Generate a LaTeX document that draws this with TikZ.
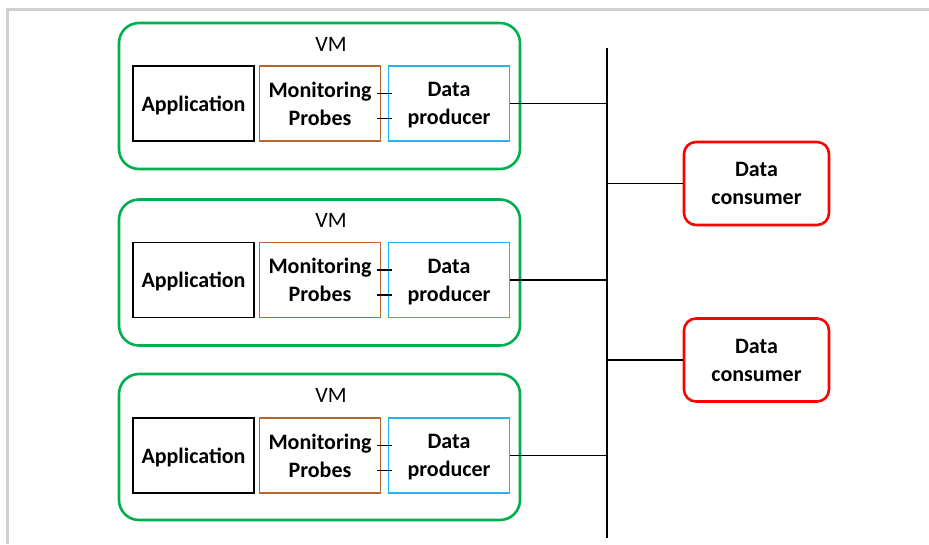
\documentclass[tikz,border=0pt]{standalone}
\usepackage{fontspec}
\setmainfont{Carlito}
\definecolor{vmgreen}{HTML}{00B050}
\definecolor{probebrown}{HTML}{B8662B}
\definecolor{prodblue}{HTML}{1FB4F0}
\definecolor{consred}{HTML}{FF0000}
\definecolor{framegray}{HTML}{D0D0D0}

\begin{document}
\begin{tikzpicture}[x=1pt,y=-1pt,
    every node/.style={font=\fontsize{22}{28}\selectfont},
    vm/.style={draw=vmgreen, line width=2.6pt, rounded corners=20pt,
      minimum width=401pt, minimum height=146pt},
    part/.style={draw, line width=1.4pt, inner sep=0pt, align=center, text depth=-1.5pt,
      minimum width=121pt, minimum height=75pt, font=\fontsize{22}{28}\selectfont\bfseries},
    consumer/.style={draw=consred, line width=2.6pt, rounded corners=12pt,
      inner sep=0pt, align=center, minimum width=145pt, minimum height=83pt,
      font=\fontsize{22}{28}\selectfont\bfseries},
    wire/.style={line width=1.4pt}]
    \useasboundingbox (0,0) rectangle (929,544);
    \draw[framegray, line width=3pt] (929,9) -- (7.5,9) -- (7.5,544);
    %% Draw the VMs
    \node[vm] (vm1) at (319.5,96) {};
    \node[vm] (vm2) at (319.5,272.5) {};
    \node[vm] (vm3) at (319.5,447) {};
    \node (vmlabel1) at (331,44) {VM};
    \node (vmlabel2) at (331,220) {VM};
    \node (vmlabel3) at (331,395) {VM};
    %% Draw the boxes inside
    \node[part] (app1) at (193.5,103.5) {Application};
    \node[part, draw=probebrown] (mon1) at (320,103.5) {Monitoring\\Probes};
    \node[part, draw=prodblue] (prod1) at (449,103.5) {Data\\producer};
    \node[part] (app2) at (193.5,280) {Application};
    \node[part, draw=probebrown] (mon2) at (320,280) {Monitoring\\Probes};
    \node[part, draw=prodblue] (prod2) at (449,280) {Data\\producer};
    \node[part] (app3) at (193.5,455.5) {Application};
    \node[part, draw=probebrown] (mon3) at (320,455.5) {Monitoring\\Probes};
    \node[part, draw=prodblue] (prod3) at (449,455.5) {Data\\producer};
    %% Draw the consumers
    \node[consumer] (cons1) at (756.5,183.5) {Data\\consumer};
    \node[consumer] (cons2) at (756.5,360) {Data\\consumer};
    %% Draw the bus
    \coordinate (bustop) at (607,48);
    \coordinate (busbot) at (607,538);
    \begin{scope}[every path/.style={wire}]
      \draw (bustop) -- (busbot);
      \draw (prod1.east) -- (prod1 -| bustop);
      \draw (prod2.east) -- (prod2 -| bustop);
      \draw (prod3.east) -- (prod3 -| bustop);
      \draw (cons1.west) -- (cons1 -| bustop);
      \draw (cons2.west) -- (cons2 -| bustop);
      %% probe to producer links
      \draw ([shift={(-4,-10)}]mon1.east) -- ([shift={(4,-10)}]prod1.west);
      \draw ([shift={(-4,15)}]mon1.east) -- ([shift={(4,15)}]prod1.west);
      \draw ([shift={(-4,-10)}]mon2.east) -- ([shift={(4,-10)}]prod2.west);
      \draw ([shift={(-4,15)}]mon2.east) -- ([shift={(4,15)}]prod2.west);
      \draw ([shift={(-4,-10)}]mon3.east) -- ([shift={(4,-10)}]prod3.west);
      \draw ([shift={(-4,15)}]mon3.east) -- ([shift={(4,15)}]prod3.west);
    \end{scope}
\end{tikzpicture}
\end{document}
